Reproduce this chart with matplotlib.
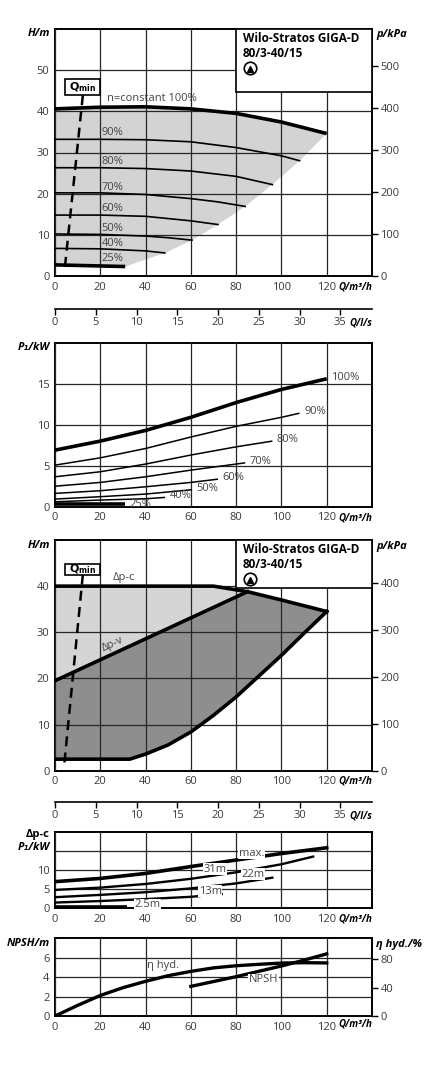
import numpy as np
import matplotlib
matplotlib.use('Agg')
import matplotlib.pyplot as plt
from matplotlib.patches import Rectangle

plt.rcParams['font.family'] = ['Open Sans', 'DejaVu Sans']
plt.rcParams['font.size'] = 8

# ---------------- data ----------------
# panel 1: head H over flow Q for the speed steps
q_100 = [0, 20, 40, 60, 80, 100, 120]
h_100 = [40.6, 41.0, 41.1, 40.6, 39.5, 37.4, 34.6]
q_90 = [0, 20, 40, 60, 80, 100, 108]
h_90 = [33.2, 33.2, 33.1, 32.6, 31.2, 29.2, 28.0]
q_80 = [0, 20, 40, 60, 80, 96]
h_80 = [26.3, 26.3, 26.1, 25.5, 24.2, 22.2]
q_70 = [0, 20, 40, 60, 72, 84]
h_70 = [20.2, 20.2, 19.8, 18.8, 18.0, 16.9]
q_60 = [0, 20, 40, 60, 72]
h_60 = [14.8, 14.8, 14.5, 13.4, 12.5]
q_50 = [0, 20, 40, 50, 60.5]
h_50 = [10.2, 10.1, 9.7, 9.3, 8.7]
q_40 = [0, 20, 40, 48.5]
h_40 = [6.7, 6.6, 6.1, 5.6]
q_25 = [0, 31]
h_25 = [2.7, 2.3]
speed_labels = ['90%', '80%', '70%', '60%', '50%', '40%', '25%']
speed_label_y = [34.8, 27.9, 21.5, 16.3, 11.5, 8.0, 4.3]

# panel 2: power P1 over Q for the speed steps
p_q_100 = [0, 20, 40, 60, 80, 100, 120]
p_100 = [6.9, 8.0, 9.3, 10.9, 12.7, 14.3, 15.6]
p_q_90 = [0, 20, 40, 60, 80, 100, 108]
p_90 = [5.07, 5.96, 7.1, 8.5, 9.8, 10.9, 11.4]
p_q_80 = [0, 20, 40, 60, 80, 96]
p_80 = [3.65, 4.26, 5.2, 6.3, 7.3, 8.0]
p_q_70 = [0, 20, 40, 60, 84]
p_70 = [2.5, 2.96, 3.65, 4.46, 5.35]
p_q_60 = [0, 20, 40, 60, 72]
p_60 = [1.62, 1.95, 2.43, 2.96, 3.36]
p_q_50 = [0, 20, 40, 60.4]
p_50 = [0.93, 1.22, 1.54, 2.07]
p_q_40 = [0, 20, 40, 48.6]
p_40 = [0.6, 0.81, 0.97, 1.13]
p_q_25 = [0, 31]
p_25 = [0.32, 0.32]
power_labels = ['100%', '90%', '80%', '70%', '60%', '50%', '40%', '25%']

# panel 3: control modes
dpc_q = [0, 70, 85, 100, 120]
dpc_h = [40.0, 40.0, 38.8, 37.0, 34.5]
dpv_q = [0, 85]
dpv_h = [19.5, 38.8]
low_q = [0, 33, 40, 50, 60, 70, 80, 90, 100, 110, 120]
low_h = [2.5, 2.5, 3.6, 5.6, 8.4, 12.0, 16.0, 20.5, 25.0, 29.8, 34.5]

# panel 4: power in dp-c mode
c_q_max = [0, 20, 40, 60, 80, 100, 120]
c_max = [6.96, 7.8, 9.1, 10.9, 12.6, 14.3, 15.8]
c_q_31 = [0, 20, 40, 60, 80, 100, 114]
c_31 = [4.8, 5.4, 6.35, 7.7, 9.4, 11.5, 13.5]
c_q_22 = [0, 20, 40, 60, 80, 96]
c_22 = [2.9, 3.5, 4.2, 5.2, 6.5, 8.0]
c_q_13 = [0, 20, 40, 60, 73.6]
c_13 = [1.5, 1.9, 2.4, 3.0, 3.7]
c_q_2 = [0, 32]
c_2 = [0.26, 0.26]

# panel 5: NPSH and hydraulic efficiency
eta_q = [0, 10, 20, 30, 40, 50, 60, 70, 80, 90, 100, 110, 120]
eta = [0, 15, 29, 40, 49, 57, 63, 68, 71, 73, 74.8, 75.3, 75]
npsh_q = [60, 70, 80, 90, 100, 110, 120]
npsh = [3.05, 3.55, 4.05, 4.6, 5.15, 5.75, 6.4]

x_ticks = [0, 20, 40, 60, 80, 100, 120]
ls_ticks = [0, 5, 10, 15, 20, 25, 30, 35]
title1 = 'Wilo-Stratos GIGA-D'
title2 = '80/3-40/15'

# ---------------- layout helpers ----------------
W, H = 424, 1080
L, R = 55, 372
TXT = '#3a3a3a'
LAB = '#444444'


def rect(top, bottom):
    return [L / W, 1 - bottom / H, (R - L) / W, (bottom - top) / H]


def fig_text(x, y, s, **kw):
    fig.text(x / W, 1 - y / H, s, **kw)


def base_axes(pos, ymax, yticks, ylabels=None):
    ax = fig.add_axes(pos)
    ax.set_xlim(0, 140)
    ax.set_ylim(0, ymax)
    ax.set_xticks(x_ticks)
    ax.set_yticks(yticks)
    if ylabels is not None:
        ax.set_yticklabels(ylabels)
    ax.set_axisbelow(False)
    ax.grid(True, color='#262626', lw=0.9)
    ax.tick_params(length=0, colors=TXT, labelsize=8, pad=4)
    for s in ax.spines.values():
        s.set_linewidth(1.4)
    return ax


def right_axis(ax, ymax, ticks):
    ax2 = ax.twinx()
    ax2.set_ylim(0, ymax)
    ax2.set_yticks(ticks)
    ax2.tick_params(direction='out', length=4, width=1, colors='black',
                    labelcolor=TXT, labelsize=8, pad=2)
    for s in ax2.spines.values():
        s.set_visible(False)
    return ax2


def ls_axis(y):
    ax = fig.add_axes([L / W, 1 - y / H, (R - L) / W, 0.0001])
    ax.set_xlim(0, 140 / 3.6)
    ax.set_xticks(ls_ticks)
    ax.set_yticks([])
    for k in ['left', 'right', 'top']:
        ax.spines[k].set_visible(False)
    ax.spines['bottom'].set_linewidth(1.2)
    ax.tick_params(direction='out', length=4, width=1, colors='black',
                   labelcolor=TXT, labelsize=8, pad=2)
    fig_text(R, y + 14, 'Q/l/s', ha='right', va='center', fontsize=7,
             fontweight='bold', fontstyle='italic')


def title_box(ax, ybot, y1, y2, ysym):
    ax.add_patch(Rectangle((0.571, ybot), 0.429, 1 - ybot, transform=ax.transAxes,
                           facecolor='white', edgecolor='black', lw=1.2, zorder=4))
    ax.text(0.593, y1, title1, transform=ax.transAxes, fontsize=8.5,
            fontweight='bold', va='center', zorder=5)
    ax.text(0.593, y2, title2, transform=ax.transAxes, fontsize=8.5,
            fontweight='bold', va='center', zorder=5)
    ax.plot([0.615], [ysym], marker='o', ms=9, mfc='white', mec='black', mew=1.2,
            transform=ax.transAxes, zorder=6, clip_on=False)
    ax.plot([0.615], [ysym - 0.004], marker='^', ms=5, color='black',
            transform=ax.transAxes, zorder=7, clip_on=False)


def qmin(ax, x0, x1, y0, y1, xtop, xbot, ybot):
    ax.add_patch(Rectangle((x0, y0), x1 - x0, y1 - y0, facecolor='white',
                           edgecolor='black', lw=1.2, zorder=6))
    ax.text((x0 + x1) / 2, (y0 + y1) / 2, r'$\mathbf{Q_{min}}$', ha='center',
            va='center', fontsize=8, zorder=7)
    ax.plot([xtop, xbot], [y0, ybot], color='black', lw=1.8, ls=(0, (4, 2.5)),
            zorder=5)


def unit_q(y):
    fig_text(R, y, 'Q/m³/h', ha='right', va='center', fontsize=7,
             fontweight='bold', fontstyle='italic')


fig = plt.figure(figsize=(W / 100, H / 100), dpi=100)

# ---------------- panel 1: H(Q) ----------------
ax1 = base_axes(rect(29, 276), 60, [0, 10, 20, 30, 40, 50])
edge_q = [120, 108, 96, 84, 72, 60.5, 48.5, 31]
edge_h = [34.6, 28.0, 22.2, 16.9, 12.5, 8.7, 5.6, 2.3]
fill_q = q_100 + edge_q[1:] + q_25[::-1]
fill_h = h_100 + edge_h[1:] + h_25[::-1]
ax1.fill(fill_q, fill_h, color='#d3d3d3', lw=0, zorder=1)
ax1.plot(q_100, h_100, color='black', lw=2.6, zorder=3, solid_capstyle='butt')
for q, h in [(q_90, h_90), (q_80, h_80), (q_70, h_70), (q_60, h_60),
             (q_50, h_50), (q_40, h_40)]:
    ax1.plot(q, h, color='black', lw=1.2, zorder=3)
ax1.plot(q_25, h_25, color='black', lw=2.6, zorder=3, solid_capstyle='butt')
ax1.text(23, 43.2, 'n=constant 100%', color=LAB, fontsize=8, va='center', zorder=5)
for lab, y in zip(speed_labels, speed_label_y):
    ax1.text(20.6, y, lab, color=LAB, fontsize=8, va='center', zorder=5)
qmin(ax1, 4.4, 19.9, 43.9, 47.8, 12.3, 4.1, 0.7)
title_box(ax1, 0.745, 0.962, 0.902, 0.842)
right_axis(ax1, 60 * 9.81, [0, 100, 200, 300, 400, 500])
fig_text(50, 34, 'H/m', ha='right', va='center', fontsize=8, fontweight='bold',
         fontstyle='italic')
fig_text(376, 35, 'p/kPa', ha='left', va='center', fontsize=8, fontweight='bold',
         fontstyle='italic')
unit_q(287)

ls_axis(309)

# ---------------- panel 2: P1(Q) ----------------
ax2 = base_axes(rect(342.7, 506.7), 20, [0, 5, 10, 15])
power = [(p_q_100, p_100), (p_q_90, p_90), (p_q_80, p_80), (p_q_70, p_70),
         (p_q_60, p_60), (p_q_50, p_50), (p_q_40, p_40), (p_q_25, p_25)]
for i, (q, p) in enumerate(power):
    thick = i in (0, 7)
    ax2.plot(q, p, color='black', lw=2.6 if thick else 1.1, zorder=3,
             solid_capstyle='butt')
    ax2.text(q[-1] + 2, p[-1] + (0.2 if i < 7 else 0.0), power_labels[i],
             color=LAB, fontsize=8, va='center', zorder=5)
fig_text(50, 347, 'P₁/kW', ha='right', va='center', fontsize=8, fontweight='bold',
         fontstyle='italic')
unit_q(518)

# ---------------- panel 3: control modes ----------------
ax3 = base_axes(rect(540, 770.7), 50, [0, 10, 20, 30, 40])
light_q = [0, 70, 85, 0]
light_h = [40.0, 40.0, 38.8, 19.5]
ax3.fill(light_q, light_h, color='#d5d5d5', lw=0, zorder=1)
dark_q = dpv_q + dpc_q[3:] + low_q[::-1]
dark_h = dpv_h + dpc_h[3:] + low_h[::-1]
ax3.fill(dark_q, dark_h, color='#8e8e8e', lw=0, zorder=1)
ax3.plot(dpc_q, dpc_h, color='black', lw=2.6, zorder=3, solid_joinstyle='round')
ax3.plot(dpv_q, dpv_h, color='black', lw=2.6, zorder=3)
ax3.plot(low_q, low_h, color='black', lw=2.6, zorder=3, solid_joinstyle='round')
ax3.text(25.7, 41.8, 'Δp-c', color=LAB, fontsize=8, va='center', zorder=5)
ax3.text(25.5, 27.3, 'Δp-v', color=LAB, fontsize=8, va='center', ha='center',
         rotation=25, rotation_mode='anchor', zorder=5)
qmin(ax3, 4.4, 19.9, 42.5, 44.9, 12.3, 4.1, 1.4)
title_box(ax3, 0.793, 0.957, 0.895, 0.831)
right_axis(ax3, 50 * 9.81, [0, 100, 200, 300, 400])
fig_text(50, 545, 'H/m', ha='right', va='center', fontsize=8, fontweight='bold',
         fontstyle='italic')
fig_text(376, 546, 'p/kPa', ha='left', va='center', fontsize=8, fontweight='bold',
         fontstyle='italic')
unit_q(781)

ls_axis(801.7)

# ---------------- panel 4: P1 in dp-c mode ----------------
ax4 = base_axes(rect(831.7, 908.3), 20, [0, 5, 10, 15], ['0', '5', '10', ''])
ax4.plot(c_q_max, c_max, color='black', lw=2.6, zorder=3)
ax4.plot(c_q_31, c_31, color='black', lw=1.7, zorder=3)
ax4.plot(c_q_22, c_22, color='black', lw=1.7, zorder=3)
ax4.plot(c_q_13, c_13, color='black', lw=1.7, zorder=3)
ax4.plot(c_q_2, c_2, color='black', lw=2.6, zorder=3, solid_capstyle='butt')
box = dict(facecolor='white', edgecolor='none', pad=0.3)
ax4.text(86.8, 14.4, 'max.', color=LAB, fontsize=8, ha='center', va='center',
         bbox=box, zorder=4)
ax4.text(70.6, 10.2, '31m', color=LAB, fontsize=8, ha='center', va='center',
         bbox=box, zorder=4)
ax4.text(87.5, 8.9, '22m', color=LAB, fontsize=8, ha='center', va='center',
         bbox=box, zorder=4)
ax4.text(68.5, 4.5, '13m', color=LAB, fontsize=8, ha='center', va='center',
         bbox=box, zorder=4)
ax4.text(41, 0.9, '2.5m', color=LAB, fontsize=8, ha='center', va='center',
         bbox=box, zorder=4)
fig_text(50, 835, 'Δp-c', ha='right', va='center', fontsize=8, fontweight='bold')
fig_text(50, 848, 'P₁/kW', ha='right', va='center', fontsize=8, fontweight='bold',
         fontstyle='italic')
unit_q(919)

# ---------------- panel 5: NPSH and efficiency ----------------
ax5 = base_axes(rect(938.3, 1016), 8, [0, 2, 4, 6])
ax5.plot(npsh_q, npsh, color='black', lw=2.4, zorder=3)
ax5e = right_axis(ax5, 8 / 5.83 * 80, [0, 40, 80])
ax5e.plot(eta_q, eta, color='black', lw=2.4, zorder=3)
ax5.text(47.8, 5.2, 'η hyd.', color=LAB, fontsize=8, ha='center', va='center',
         zorder=5)
ax5.text(92, 3.75, 'NPSH', color=LAB, fontsize=8, ha='center', va='center',
         bbox=box, zorder=5)
fig_text(50, 943, 'NPSH/m', ha='right', va='center', fontsize=8, fontweight='bold',
         fontstyle='italic')
fig_text(376, 944, 'η hyd./%', ha='left', va='center', fontsize=8, fontweight='bold',
         fontstyle='italic')
unit_q(1024)

fig.savefig('out.png', dpi=100)
